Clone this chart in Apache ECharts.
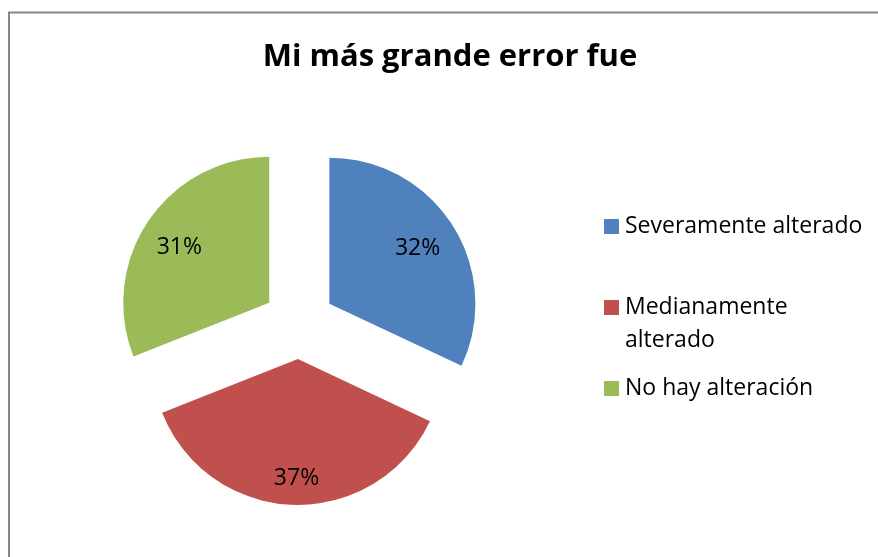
<!DOCTYPE html>
<html>
<head>
<meta charset="utf-8">
<script src="https://cdn.jsdelivr.net/npm/echarts@6/dist/echarts.min.js"></script>
<style>
  html, body { margin: 0; padding: 0; background: #fff; }
  #container { width: 878px; height: 557px; }
</style>
</head>
<body>
<div id="container"></div>
<script>
var titleText = 'Mi más grande error fue';
var categories = ['Severamente alterado', 'Medianamente alterado', 'No hay alteración'];
var values = [32, 37, 31];
var colors = ['#4F81BD', '#C0504D', '#9BBB59'];

var dom = document.getElementById('container');
var myChart = echarts.init(dom);

// label nudges so the percentages sit where Excel put them
var labelNudge = [[24, -15], [1, 44], [-27, -13]];

var pieData = categories.map(function (name, i) {
	return {
		name: name,
		value: values[i],
		selected: true,
		itemStyle: { color: colors[i] }
	};
});

var option = {
	animation: false,
	title: {
		text: titleText,
		left: 445,
		top: 37,
		textAlign: 'center',
		textStyle: {
			fontFamily: 'Open Sans',
			fontWeight: 'bold',
			fontSize: 31,
			color: '#000'
		}
	},
	legend: {
		orient: 'vertical',
		left: 604,
		top: 210,
		padding: 0,
		itemGap: 15,
		itemWidth: 15,
		itemHeight: 15,
		icon: 'rect',
		selectedMode: false,
		data: categories,
		formatter: function (name) {
			// blank first line keeps the square level with "Medianamente"
			return name === 'Medianamente alterado' ? ' \nMedianamente\nalterado' : name;
		},
		textStyle: {
			fontFamily: 'Open Sans',
			fontSize: 23,
			lineHeight: 33,
			color: '#000',
			padding: [0, 0, 0, 1]
		}
	},
	graphic: [{
		type: 'rect',
		shape: { x: 9, y: 12.5, width: 900, height: 600 },
		style: { fill: null, stroke: '#868686', lineWidth: 2 },
		silent: true
	}],
	series: [{
		type: 'pie',
		center: [299, 323],
		radius: 146,
		startAngle: 90,
		clockwise: true,
		selectedMode: 'multiple',
		selectedOffset: 36,
		emphasis: { disabled: true },
		label: {
			show: true,
			position: 'inside',
			formatter: '{c}%',
			fontFamily: 'Open Sans',
			fontSize: 23,
			color: '#000'
		},
		labelLine: { show: false },
		labelLayout: function (params) {
			var n = labelNudge[params.dataIndex];
			return { dx: n[0], dy: n[1] };
		},
		data: pieData
	}]
};

myChart.setOption(option);
</script>
</body>
</html>
